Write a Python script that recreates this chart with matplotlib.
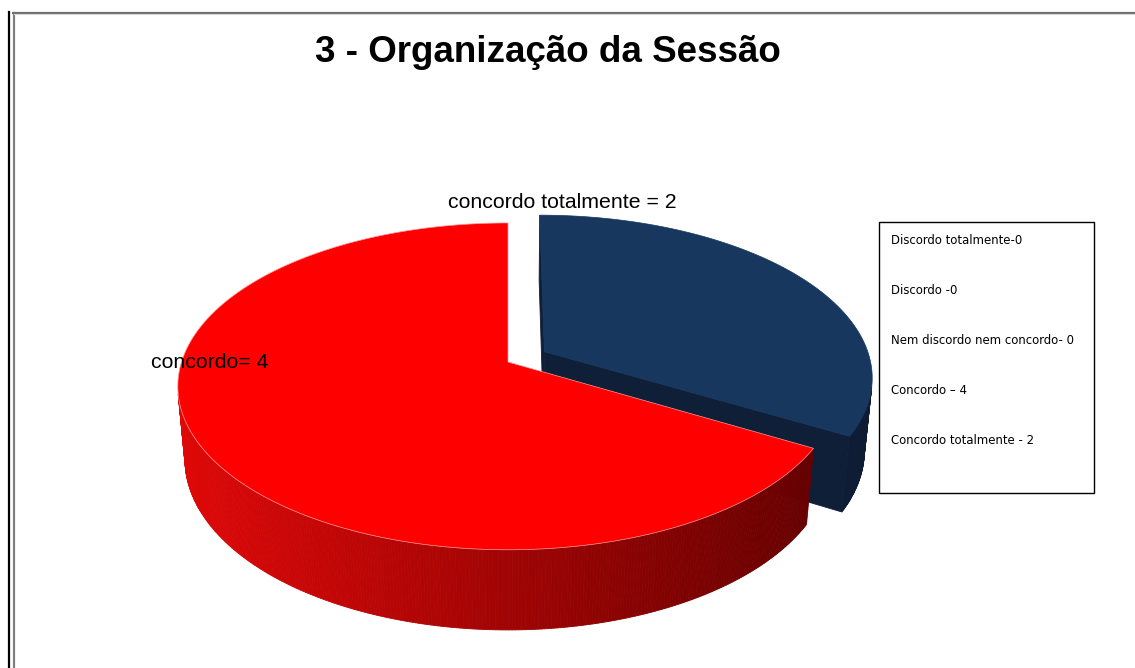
import numpy as np
import matplotlib.pyplot as plt
from matplotlib.patches import Polygon, Rectangle
from matplotlib.lines import Line2D

# Respostas da pergunta 3
categories = ["Discordo totalmente", "Discordo", "Nem discordo nem concordo",
              "Concordo", "Concordo totalmente"]
values = [0, 0, 0, 4, 2]
legend_seps = ["-", " -", "- ", " \u2013 ", " - "]
pie_label_fmt = {"Concordo": "concordo= {}",
                 "Concordo totalmente": "concordo totalmente = {}"}
title = "3 - Organiza\u00e7\u00e3o da Sess\u00e3o"

top_colors = {"Concordo": "#ff0000", "Concordo totalmente": "#17375e"}
explode = {"Concordo": 0.0, "Concordo totalmente": 0.13}

# vista 3D do bolo (pixels)
W, H_PX = 1135, 668
cx, cy = 508, 362
F, D0 = 1910.0, 5.85
ELEV = np.radians(29.3)
DEPTH = 0.26
START = 120.0  # angulo da primeira fatia, sentido horario a partir do topo
sinE, cosE = np.sin(ELEV), np.cos(ELEV)
cam = np.array([0.0, -D0 * cosE, D0 * sinE])


def project(u, v, h):
    d = D0 + v * cosE - h * sinE
    return cx + u * F / d, cy - (v * sinE + h * cosE) * F / d


def visible(normal, point):
    return np.dot(normal, cam - point) > 1e-6


fig = plt.figure(figsize=(W / 100, H_PX / 100), dpi=100)
ax = fig.add_axes([0, 0, 1, 1])
ax.set_xlim(0, W)
ax.set_ylim(H_PX, 0)
ax.axis("off")

# moldura
ax.add_line(Line2D([8.5, 8.5], [12, H_PX], color="black", lw=1.6))
ax.add_line(Line2D([13.5, 13.5], [12.5, H_PX], color="#808080", lw=1.6))
ax.add_line(Line2D([13, W], [12.5, 12.5], color="#707070", lw=1.6))
ax.add_line(Line2D([14, W], [14.3, 14.3], color="#d8d8d8", lw=0.8))


def wall_color(name, x):
    t = np.clip((x - 185) / (870 - 185), 0, 1)
    if name == "Concordo":
        lo, hi = np.array([222, 8, 8]), np.array([92, 0, 0])
    else:
        lo, hi = np.array([22, 42, 78]), np.array([14, 28, 52])
    return tuple((lo + (hi - lo) * t) / 255)


def draw_slice(name, a0, a1):
    mid = np.radians((a0 + a1) / 2)
    su, sv = explode[name] * np.sin(mid), explode[name] * np.cos(mid)
    phis = np.radians(np.linspace(a0, a1, int(abs(a1 - a0) * 2) + 2))

    faces = []
    # paredes laterais
    for pa, pb in zip(phis[:-1], phis[1:]):
        pm = (pa + pb) / 2
        n = np.array([np.sin(pm), np.cos(pm), 0])
        p = np.array([su + np.sin(pm), sv + np.cos(pm), -DEPTH / 2])
        if not visible(n, p):
            continue
        pts = [project(su + np.sin(pa), sv + np.cos(pa), 0),
               project(su + np.sin(pb), sv + np.cos(pb), 0),
               project(su + np.sin(pb), sv + np.cos(pb), -DEPTH),
               project(su + np.sin(pa), sv + np.cos(pa), -DEPTH)]
        col = wall_color(name, np.mean([q[0] for q in pts]))
        faces.append((pts, col))
    # faces de corte
    for ang, sign in ((phis[0], -1), (phis[-1], 1)):
        n = sign * np.array([np.cos(ang), -np.sin(ang), 0])
        p = np.array([su + 0.5 * np.sin(ang), sv + 0.5 * np.cos(ang), -DEPTH / 2])
        if not visible(n, p):
            continue
        pts = [project(su, sv, 0),
               project(su + np.sin(ang), sv + np.cos(ang), 0),
               project(su + np.sin(ang), sv + np.cos(ang), -DEPTH),
               project(su, sv, -DEPTH)]
        col = "#8a0000" if name == "Concordo" else "#0f1f38"
        faces.append((pts, col))
    for pts, col in faces:
        ax.add_patch(Polygon(pts, closed=True, facecolor=col, edgecolor=col,
                             lw=0.6, antialiased=True))
    top = [project(su, sv, 0)] + [project(su + np.sin(p), sv + np.cos(p), 0)
                                  for p in phis]
    edge = "#ff9a9a" if name == "Concordo" else top_colors[name]
    ax.add_patch(Polygon(top, closed=True, facecolor=top_colors[name],
                         edgecolor=edge, lw=0.5))


# fatias com valor > 0, desenhadas de tras para frente
total = sum(values)
angle = START
spans = {}
for name, val in zip(categories, values):
    if val == 0:
        continue
    span = 360.0 * val / total
    spans[name] = (angle, angle + span)
    angle += span
for name in ["Concordo totalmente", "Concordo"]:
    draw_slice(name, *spans[name])

# rotulos
lab_font = dict(family=["Liberation Sans", "DejaVu Sans"], fontsize=15.3,
                color="black", va="center")
ax.text(562, 202, pie_label_fmt["Concordo totalmente"].format(values[4]),
        ha="center", **lab_font)
ax.text(210, 362, pie_label_fmt["Concordo"].format(values[3]),
        ha="center", **lab_font)

ax.text(548, 52, title, ha="center", va="center", fontsize=26.5,
        fontweight="bold", family=["Liberation Sans", "DejaVu Sans"])

# caixa de legenda
ax.add_patch(Rectangle((879, 222), 215, 271, facecolor="white",
                       edgecolor="black", lw=1.0))
for i, (cat, sep, val) in enumerate(zip(categories, legend_seps, values)):
    ax.text(891, 241 + i * 50, f"{cat}{sep}{val}", ha="left", va="center",
            fontsize=9.4, fontstretch="condensed", family=["DejaVu Sans"])

fig.savefig("out.png", dpi=100, facecolor="white")
